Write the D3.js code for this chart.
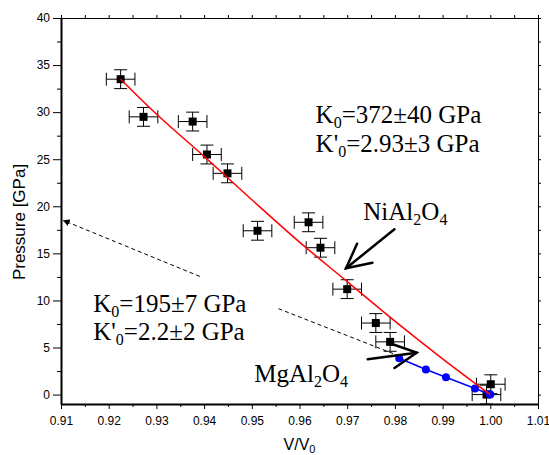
<!DOCTYPE html>
<html>
<head>
<meta charset="utf-8">
<script src="https://cdnjs.cloudflare.com/ajax/libs/d3/7.8.5/d3.min.js"></script>
<style>
	body { margin: 0; background: #fff; }
	.tick text { font-family: "Liberation Sans", Arial, sans-serif; font-size: 12px; fill: #000; }
	.note { font-family: "Liberation Serif", "Times New Roman", serif; font-size: 25px; fill: #000; }
	.axis-title { font-family: "Liberation Sans", Arial, sans-serif; fill: #000; }
</style>
</head>
<body>
<div id="chart"></div>
<script>
// NiAl2O4 points (V/V0, pressure), with error bars
var niV = [0.9225, 0.9273, 0.9376, 0.9406, 0.9449, 0.9512, 0.9619, 0.9644, 0.9700, 0.9760, 0.9790, 1.0001, 0.9992];
var niP = [33.5, 29.5, 29.0, 25.5, 23.5, 17.4, 18.3, 15.6, 11.2, 7.6, 5.6, 1.1, 0.0];
var errV = 0.003, errP = 1.0;

// MgAl2O4 points
var mgV = [0.9809, 0.9865, 0.9907, 0.9968, 0.9998, 1.0000];
var mgP = [3.86, 2.66, 1.84, 0.64, 0.07, 0.0];

// EOS fit through NiAl2O4
var fitV = [0.9225, 0.93, 0.94, 0.95, 0.96, 0.97, 0.98, 0.99, 1.00];
var fitP = [33.5, 29.8, 25.3, 20.7, 16.2, 12.0, 7.8, 3.8, 0.0];

// tick values
var xTicks = [0.91, 0.92, 0.93, 0.94, 0.95, 0.96, 0.97, 0.98, 0.99, 1.00, 1.01];
var yTicks = [0, 5, 10, 15, 20, 25, 30, 35, 40];

// annotation anchors, in data units
var dashA = [[0.9391, 12.55], [0.9105, 18.5]];
var dashB = [[0.9796, 4.36], [0.9556, 9.12]];
var niArrow = [[0.9799, 17.56], [0.96975, 13.41]];
var mgArrow = [[0.9743, 3.75], [0.98457, 4.45]];

var width = 549,
	height = 455,
	margin = {top: 18, right: 11, bottom: 51, left: 61};

var svg = d3.select("#chart")
	.append("svg")
	.attr("width", width)
	.attr("height", height);

var x = d3.scaleLinear().domain([0.91, 1.01]).range([margin.left, width - margin.right]);
var y = d3.scaleLinear().domain([-1, 40]).range([height - margin.bottom, margin.top]);

var minorX = d3.range(0, 21).map(function (i) { return +(0.91 + i * 0.005).toFixed(3); });
var minorY = d3.range(0, 17).map(function (i) { return i * 2.5; });

// frame: top and right with small ticks only
svg.append("g")
	.attr("transform", "translate(0," + margin.top + ")")
	.call(d3.axisTop(x).tickValues(minorX).tickSize(3).tickSizeOuter(0).tickFormat(""));
svg.append("g")
	.attr("transform", "translate(" + (width - margin.right) + ",0)")
	.call(d3.axisRight(y).tickValues(minorY).tickSize(3).tickSizeOuter(0).tickFormat(""));

// bottom axis
svg.append("g")
	.attr("transform", "translate(0," + (height - margin.bottom) + ")")
	.call(d3.axisBottom(x).tickValues(minorX.filter(function (d, i) { return i % 2; })).tickSize(3).tickSizeOuter(0).tickFormat(""));
var xAxis = svg.append("g")
	.attr("transform", "translate(0," + (height - margin.bottom) + ")")
	.call(d3.axisBottom(x).tickValues(xTicks).tickSize(5).tickPadding(7).tickSizeOuter(0).tickFormat(d3.format(".2f")));
xAxis.select(".domain").attr("stroke-width", 2);

// left axis
svg.append("g")
	.attr("transform", "translate(" + margin.left + ",0)")
	.call(d3.axisLeft(y).tickValues(minorY.filter(function (d, i) { return i % 2; })).tickSize(4).tickSizeOuter(0).tickFormat(""));
var yAxis = svg.append("g")
	.attr("transform", "translate(" + margin.left + ",0)")
	.call(d3.axisLeft(y).tickValues(yTicks).tickSize(8).tickPadding(3).tickSizeOuter(0));
yAxis.select(".domain").attr("stroke-width", 2);

// axis titles
svg.append("text")
	.attr("class", "axis-title")
	.attr("font-size", 17)
	.attr("text-anchor", "middle")
	.attr("transform", "translate(25,222) rotate(-90)")
	.text("Pressure [GPa]");

var xt = svg.append("text")
	.attr("class", "axis-title")
	.attr("font-size", 16)
	.attr("text-anchor", "middle")
	.attr("x", (x(0.91) + x(1.01)) / 2)
	.attr("y", 450);
xt.append("tspan").text("V/V");
xt.append("tspan").attr("font-size", 11).attr("dy", 3).text("0");

// NiAl2O4 error bars and squares
var ni = niV.map(function (v, i) { return {v: v, p: niP[i]}; });
var bars = svg.append("g").attr("stroke", "#000").attr("stroke-width", 1).attr("fill", "none");
ni.forEach(function (d) {
	var cx = x(d.v), cy = y(d.p),
		x0 = x(d.v - errV), x1 = x(d.v + errV),
		y0 = y(d.p + errP), y1 = y(d.p - errP);
	bars.append("line").attr("x1", x0).attr("x2", x1).attr("y1", cy).attr("y2", cy);
	bars.append("line").attr("x1", x0).attr("x2", x0).attr("y1", cy - 6.5).attr("y2", cy + 6.5);
	bars.append("line").attr("x1", x1).attr("x2", x1).attr("y1", cy - 6.5).attr("y2", cy + 6.5);
	bars.append("line").attr("x1", cx).attr("x2", cx).attr("y1", y0).attr("y2", y1);
	bars.append("line").attr("x1", cx - 6.5).attr("x2", cx + 6.5).attr("y1", y0).attr("y2", y0);
	bars.append("line").attr("x1", cx - 6.5).attr("x2", cx + 6.5).attr("y1", y1).attr("y2", y1);
});
svg.append("g").selectAll("rect")
	.data(ni)
	.enter()
	.append("rect")
	.attr("x", function (d) { return x(d.v) - 4; })
	.attr("y", function (d) { return y(d.p) - 4; })
	.attr("width", 8)
	.attr("height", 8)
	.attr("fill", "#000");

// MgAl2O4 line and dots
var mg = mgV.map(function (v, i) { return {v: v, p: mgP[i]}; });
var line = d3.line()
	.x(function (d) { return x(d.v); })
	.y(function (d) { return y(d.p); });
svg.append("path")
	.datum(mg)
	.attr("d", line)
	.attr("fill", "none")
	.attr("stroke", "#0000ff")
	.attr("stroke-width", 1.5);
svg.append("g").selectAll("circle")
	.data(mg)
	.enter()
	.append("circle")
	.attr("cx", function (d) { return x(d.v); })
	.attr("cy", function (d) { return y(d.p); })
	.attr("r", 4)
	.attr("fill", "#0000ff");

// red fit
var fit = fitV.map(function (v, i) { return {v: v, p: fitP[i]}; });
svg.append("path")
	.datum(fit)
	.attr("d", line.curve(d3.curveMonotoneX))
	.attr("fill", "none")
	.attr("stroke", "#ff0000")
	.attr("stroke-width", 1.5);

// dashed extrapolation with arrow head
svg.append("defs").append("marker")
	.attr("id", "tip")
	.attr("viewBox", "0 0 10 10")
	.attr("refX", 9).attr("refY", 5)
	.attr("markerWidth", 7).attr("markerHeight", 7)
	.attr("markerUnits", "userSpaceOnUse")
	.attr("orient", "auto")
	.append("path")
	.attr("d", "M0,0L10,5L0,10z")
	.attr("fill", "#000");

[dashA, dashB].forEach(function (seg, i) {
	var l = svg.append("line")
		.attr("x1", x(seg[0][0])).attr("y1", y(seg[0][1]))
		.attr("x2", x(seg[1][0])).attr("y2", y(seg[1][1]))
		.attr("stroke", "#000")
		.attr("stroke-width", 1)
		.attr("stroke-dasharray", "4,3");
	if (i == 0) l.attr("marker-end", "url(#tip)");
});

// open arrows pointing at the curves
function arrow(seg) {
	var tx = x(seg[0][0]), ty = y(seg[0][1]),
		hx = x(seg[1][0]), hy = y(seg[1][1]),
		a = Math.atan2(ty - hy, tx - hx),
		len = 27, spread = 0.47;
	var g = svg.append("g")
		.attr("stroke", "#000")
		.attr("stroke-width", 2.5)
		.attr("stroke-linecap", "round")
		.attr("fill", "none");
	g.append("line").attr("x1", tx).attr("y1", ty).attr("x2", hx).attr("y2", hy);
	g.append("path")
		.attr("d", "M" + (hx + len * Math.cos(a - spread)) + "," + (hy + len * Math.sin(a - spread)) +
			"L" + hx + "," + hy +
			"L" + (hx + len * Math.cos(a + spread)) + "," + (hy + len * Math.sin(a + spread)));
}
arrow(niArrow);
arrow(mgArrow);

// text notes
function note(v, p, parts) {
	var t = svg.append("text")
		.attr("class", "note")
		.attr("x", x(v))
		.attr("y", y(p));
	parts.forEach(function (s) {
		if (s.sub) t.append("tspan").attr("font-size", 16).attr("dy", 5).text(s.sub);
		else t.append("tspan").attr("dy", s.up ? -5 : 0).text(s.t);
	});
}
note(0.96338, 28.82, [{t: "K"}, {sub: "0"}, {t: "=372±40 GPa", up: true}]);
note(0.96338, 25.8, [{t: "K'"}, {sub: "0"}, {t: "=2.93±3 GPa", up: true}]);
note(0.97338, 18.55, [{t: "NiAl"}, {sub: "2"}, {t: "O", up: true}, {sub: "4"}]);
note(0.91677, 8.81, [{t: "K"}, {sub: "0"}, {t: "=195±7 GPa", up: true}]);
note(0.91677, 5.80, [{t: "K'"}, {sub: "0"}, {t: "=2.2±2 GPa", up: true}]);
note(0.95052, 1.37, [{t: "MgAl"}, {sub: "2"}, {t: "O", up: true}, {sub: "4"}]);
</script>
</body>
</html>
